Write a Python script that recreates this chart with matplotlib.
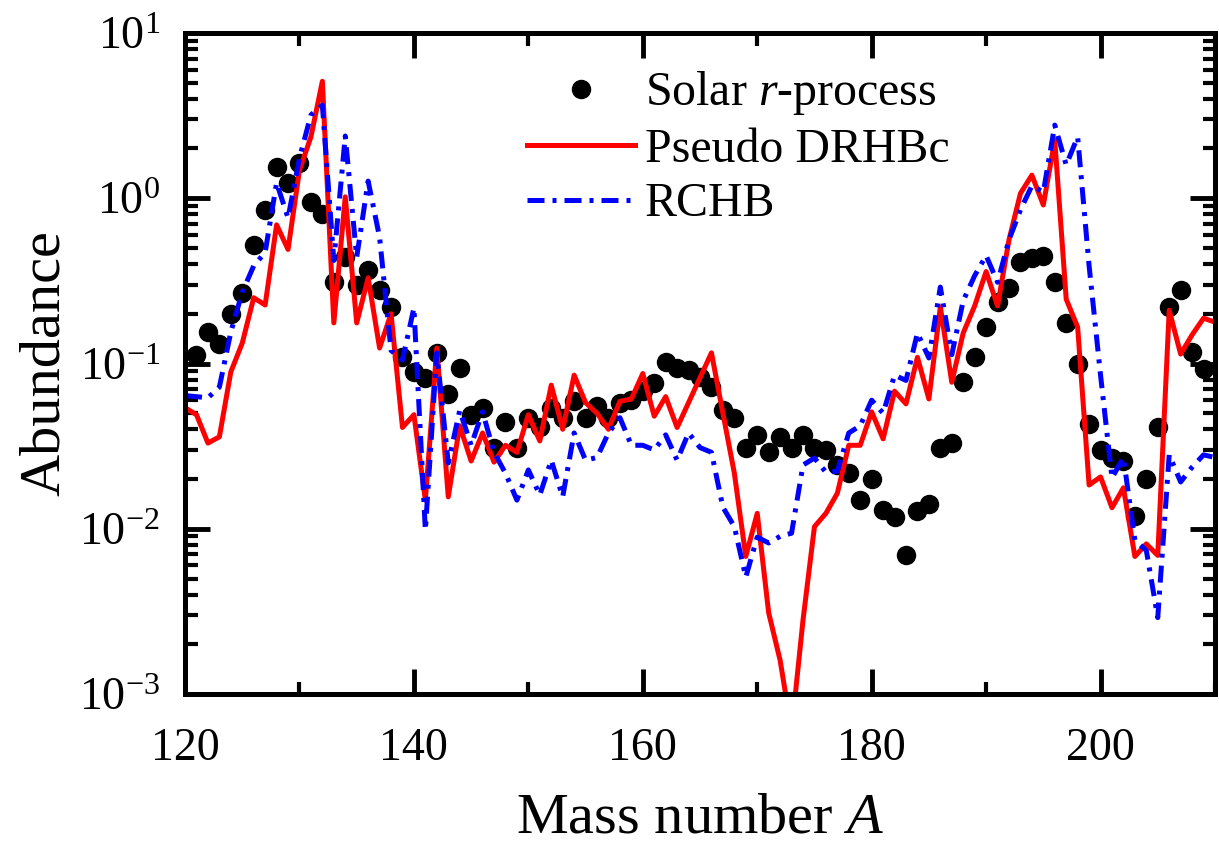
import matplotlib
matplotlib.use("Agg")
import matplotlib.pyplot as plt
from matplotlib.ticker import MultipleLocator, LogLocator, NullFormatter
import numpy as np

plt.rcParams['font.family'] = ['Liberation Serif', 'DejaVu Serif']
plt.rcParams['mathtext.fontset'] = 'custom'
plt.rcParams['mathtext.rm'] = 'Liberation Serif'
plt.rcParams['mathtext.it'] = 'Liberation Serif:italic'

# solar r-process abundances
solar_A = np.arange(121, 210)
solar_y = [0.112, 0.155, 0.131, 0.200, 0.267, 0.52, 0.85, 1.55, 1.24, 1.63,
           0.95, 0.80, 0.31, 0.44, 0.30, 0.37, 0.28, 0.22, 0.109, 0.089,
           0.082, 0.116, 0.065, 0.094, 0.049, 0.054, 0.031, 0.044, 0.031, 0.047,
           0.041, 0.054, 0.047, 0.059, 0.047, 0.055, 0.047, 0.058, 0.060, 0.068,
           0.076, 0.102, 0.094, 0.091, 0.083, 0.072, 0.052, 0.047, 0.031, 0.037,
           0.029, 0.036, 0.031, 0.037, 0.031, 0.030, 0.0243, 0.0217, 0.0149, 0.020,
           0.0130, 0.0118, 0.0069, 0.0128, 0.0141, 0.031, 0.033, 0.077, 0.109, 0.166,
           0.236, 0.286, 0.41, 0.435, 0.45, 0.31, 0.176, 0.099, 0.043, 0.030,
           0.0268, 0.0257, 0.0119, 0.020, 0.041, 0.22, 0.279, 0.117, 0.093]

model_A = np.arange(120, 211)
# Pseudo DRHBc
drhbc_y = [0.054, 0.049, 0.033, 0.036, 0.089, 0.133, 0.25, 0.226, 0.69, 0.49,
           1.48, 2.35, 5.1, 0.176, 1.02, 0.176, 0.33, 0.124, 0.20, 0.041,
           0.049, 0.0149, 0.124, 0.0156, 0.042, 0.0257, 0.038, 0.0253, 0.032, 0.029,
           0.049, 0.034, 0.074, 0.040, 0.085, 0.058, 0.050, 0.040, 0.059, 0.061,
           0.087, 0.048, 0.063, 0.041, 0.058, 0.082, 0.116, 0.050, 0.0217, 0.0068,
           0.0124, 0.0031, 0.0016, 0.0006, 0.0028, 0.0103, 0.0124, 0.0164, 0.032, 0.032,
           0.051, 0.035, 0.068, 0.057, 0.109, 0.061, 0.22, 0.077, 0.153, 0.223,
           0.36, 0.223, 0.56, 1.07, 1.38, 0.91, 2.25, 0.245, 0.166, 0.0184,
           0.0206, 0.0134, 0.0177, 0.0068, 0.0081, 0.0069, 0.21, 0.114, 0.149, 0.188,
           0.178]
# RCHB
rchb_y = [0.064, 0.063, 0.062, 0.072, 0.155, 0.27, 0.39, 0.47, 1.24, 0.76,
          1.75, 3.19, 3.66, 0.42, 2.38, 0.44, 1.27, 0.58, 0.12, 0.105,
          0.217, 0.0098, 0.116, 0.025, 0.052, 0.032, 0.051, 0.029, 0.0217, 0.0149,
          0.0227, 0.016, 0.026, 0.0156, 0.038, 0.026, 0.027, 0.038, 0.047, 0.032,
          0.032, 0.030, 0.037, 0.026, 0.038, 0.031, 0.029, 0.0135, 0.0103, 0.0051,
          0.0089, 0.0082, 0.0090, 0.0094, 0.0243, 0.0268, 0.022, 0.0223, 0.038, 0.042,
          0.060, 0.050, 0.085, 0.079, 0.153, 0.108, 0.29, 0.113, 0.24, 0.34,
          0.45, 0.31, 0.56, 0.85, 1.19, 1.09, 2.77, 1.59, 2.35, 0.39,
          0.085, 0.0203, 0.027, 0.0085, 0.0074, 0.0029, 0.028, 0.0192, 0.0236, 0.028,
          0.027]

fig, ax = plt.subplots(figsize=(12.19, 8.52), dpi=100)
fig.subplots_adjust(left=0.1518, right=0.9967, top=0.9613, bottom=0.1854)

ax.plot(solar_A, solar_y, 'o', color='black', markersize=13, label='Solar $r$-process')
ax.plot(model_A, drhbc_y, '-', color='#ff0000', lw=3.6, label='Pseudo DRHBc')
ax.plot(model_A, rchb_y, color='#0000ff', lw=3.6, linestyle=(0, (3.4, 1.6, 0.8, 1.6)),
        label='RCHB')

ax.set_yscale('log')
ax.set_xlim(120, 210)
ax.set_ylim(1e-3, 10)
ax.xaxis.set_major_locator(MultipleLocator(20))
ax.xaxis.set_minor_locator(MultipleLocator(10))
ax.yaxis.set_major_locator(LogLocator(base=10, numticks=10))
ax.yaxis.set_minor_locator(LogLocator(base=10, subs=np.arange(2, 10), numticks=20))
ax.yaxis.set_minor_formatter(NullFormatter())

ax.tick_params(which='both', direction='in', top=True, right=True)
ax.tick_params(which='major', length=18, width=3.5, labelsize=33)
ax.tick_params(axis='x', which='major', pad=24)
ax.tick_params(axis='y', which='major', pad=18)
ax.tick_params(which='minor', length=9, width=3)
for sp in ax.spines.values():
    sp.set_linewidth(3.6)

ax.set_xlabel('Mass number $A$', fontsize=42, labelpad=16)
ax.set_ylabel('Abundance', fontsize=42, labelpad=6)

ax.legend(loc='upper left', bbox_to_anchor=(0.332, 0.945), frameon=False,
          fontsize=34.5, handlelength=2.26, handletextpad=0.2, labelspacing=0.22,
          borderpad=0, borderaxespad=0)

fig.savefig('out.png', dpi=100)
